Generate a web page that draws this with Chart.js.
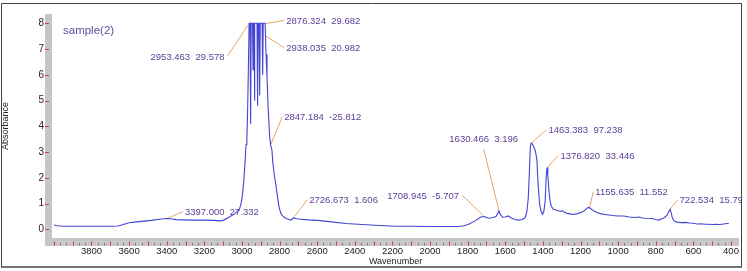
<!DOCTYPE html>
<html><head><meta charset="utf-8">
<script src="https://cdn.jsdelivr.net/npm/chart.js@4"></script>
<style>html,body{margin:0;padding:0;background:#fff;}canvas{display:block;}</style>
</head><body>
<canvas id="c" width="747" height="271"></canvas>
<script>
// ---- data ----
const wavenumbers = [4000,3980,3950,3900,3850,3800,3750,3700,3660,3640,3600,3560,3520,3480,3440,3400,3380,3350,3316,3250,3200,3150,3120,3100,3067,3040,3014,3005,2998,2990,2984,2978,2974,2970,2966,2962,2957,2954,2951,2944,2941,2938,2936,2934,2931,2920,2917,2914,2909,2906,2903,2893,2890,2887,2877,2872,2867,2860,2853,2847,2841,2836,2828,2819,2810,2802,2793,2784,2770,2758,2740,2730,2724,2716,2700,2650,2600,2536,2448,2360,2271,2183,2100,2000,1950,1850,1820,1795,1760,1730,1712,1700,1688,1670,1650,1640,1634,1628,1615,1600,1585,1570,1550,1530,1510,1495,1485,1478,1472,1467,1462,1455,1448,1440,1432,1426,1418,1410,1402,1395,1388,1383,1378,1374,1368,1362,1355,1345,1335,1320,1305,1295,1285,1270,1255,1240,1220,1200,1180,1165,1155,1145,1130,1110,1090,1070,1050,1030,1000,970,940,910,890,870,850,820,800,785,770,755,740,730,724,718,712,705,695,680,660,640,620,600,580,560,540,520,500,480,460,440,420,412];
const absorbance = [0.17,0.14,0.12,0.12,0.12,0.12,0.12,0.12,0.13,0.17,0.26,0.29,0.32,0.35,0.39,0.42,0.41,0.38,0.37,0.36,0.36,0.35,0.33,0.35,0.48,0.6,0.77,1.0,1.3,1.9,2.6,3.3,3.5,4.6,6.2,8,8,4.1,8,8,6.2,8,8,5.0,8,8,4.8,8,8,5.2,8,8,6.0,8,8,6.8,5.9,4.6,3.6,3.25,3.1,2.6,2.1,1.7,1.2,0.83,0.62,0.52,0.44,0.4,0.36,0.42,0.46,0.42,0.4,0.37,0.35,0.3,0.23,0.19,0.15,0.12,0.12,0.11,0.11,0.11,0.14,0.2,0.33,0.48,0.5,0.46,0.43,0.45,0.5,0.62,0.72,0.6,0.47,0.48,0.52,0.45,0.38,0.36,0.38,0.45,0.7,1.2,2.2,3.2,3.35,3.3,3.2,3.05,2.7,1.8,1.0,0.7,0.58,0.7,1.1,2.0,2.4,2.1,1.5,1.1,0.9,0.78,0.76,0.72,0.7,0.72,0.66,0.62,0.6,0.58,0.6,0.65,0.72,0.83,0.85,0.8,0.72,0.65,0.6,0.58,0.56,0.54,0.52,0.52,0.48,0.46,0.48,0.44,0.43,0.42,0.38,0.36,0.4,0.45,0.55,0.7,0.78,0.65,0.45,0.35,0.3,0.27,0.26,0.27,0.25,0.24,0.21,0.22,0.2,0.2,0.19,0.2,0.19,0.21,0.23,0.23];
const xTickLabels = [3800,3600,3400,3200,3000,2800,2600,2400,2200,2000,1800,1600,1400,1200,1000,800,600,400];
const yTickLabels = [0,1,2,3,4,5,6,7,8];
const sampleName = 'sample(2)';
const xTitle = 'Wavenumber';
const yTitle = 'Absorbance';
// peak annotations: text, leader start (on the curve), leader end, text side
const peakLabels = ['2953.463  29.578','2876.324  29.682','2938.035  20.982','2847.184  -25.812','3397.000  27.332','2726.673  1.606','1708.945  -5.707','1630.466  3.196','1463.383  97.238','1376.820  33.446','1155.635  11.552','722.534  15.790'];
const peakAt =  [[2966,7.95],[2876,7.99],[2876,7.52],[2846,3.31],[3394,0.435],[2718,0.52],[1715,0.52],[1635,0.77],[1459,3.37],[1379,2.38],[1153,0.83],[725,0.77]];
const labelAt = [[3077,6.73],[2775,8.11],[2775,7.05],[2786,4.37],[3314,0.69],[2653,1.15],[1830,1.33],[1715,3.12],[1381,3.87],[1317,2.87],[1132,1.45],[684,1.14]];
const labelSide = ['left','right','right','right','right','right','left','top','right','right','right','right'];

const FONT = '"Liberation Sans", Arial, sans-serif';

const deco = {
  id: 'deco',
  beforeDatasetsDraw(chart) {
    const {ctx, chartArea: ca, scales: {x, y}} = chart;
    ctx.save();
    // gray axis bands
    ctx.fillStyle = '#c6c6c6';
    ctx.fillRect(ca.left - 7, ca.top, 7, ca.bottom - ca.top + 8);
    ctx.fillRect(ca.left - 7, ca.bottom, ca.right - ca.left + 7, 8);
    // y tick dashes
    ctx.strokeStyle = '#d04040'; ctx.lineWidth = 1;
    yTickLabels.forEach(v => {
      const py = Math.round(y.getPixelForValue(v)) + 0.5;
      ctx.beginPath(); ctx.moveTo(ca.left - 7, py); ctx.lineTo(ca.left - 3, py); ctx.stroke();
    });
    // x ticks: red every 100, gray minor at thirds
    for (let k = 0; k <= 108; k++) {
      const v = 4000 - k * 100 / 3;
      const px = Math.round(x.getPixelForValue(v)) + 0.5;
      ctx.beginPath();
      if (k % 3 === 0) { ctx.strokeStyle = '#d04040'; ctx.moveTo(px, ca.bottom + 3.5); }
      else { ctx.strokeStyle = '#8a7070'; ctx.moveTo(px, ca.bottom + 5); }
      ctx.lineTo(px, ca.bottom + 7.5); ctx.stroke();
    }
    // annotations
    ctx.font = '9.5px ' + FONT;
    ctx.textBaseline = 'middle';
    peakLabels.forEach((t, i) => {
      const x1 = x.getPixelForValue(peakAt[i][0]), y1 = y.getPixelForValue(peakAt[i][1]);
      const x2 = x.getPixelForValue(labelAt[i][0]), y2 = y.getPixelForValue(labelAt[i][1]);
      ctx.strokeStyle = '#e9a468'; ctx.lineWidth = 1;
      ctx.beginPath(); ctx.moveTo(x1, y1); ctx.lineTo(x2, y2); ctx.stroke();
      ctx.fillStyle = '#5a3f98';
      const s = labelSide[i];
      if (s === 'left') { ctx.textAlign = 'right'; ctx.fillText(t, x2 - 3, y2 + 1); }
      else if (s === 'top') { ctx.textAlign = 'center'; ctx.fillText(t, x2, y2 - 10); }
      else { ctx.textAlign = 'left'; ctx.fillText(t, x2 + 2, y2 + 0.5); }
    });
    // sample name
    ctx.font = '11.5px ' + FONT;
    ctx.textAlign = 'left';
    ctx.fillStyle = '#5a4fa2';
    ctx.fillText(sampleName, ca.left + 11, ca.top + 17);
    ctx.restore();
  },
  afterDraw(chart) {
    const {ctx} = chart;
    ctx.save();
    ctx.fillStyle = '#fff';
    ctx.fillRect(742, 0, 5, 271);
    ctx.strokeStyle = '#444'; ctx.lineWidth = 1;
    ctx.beginPath();
    ctx.moveTo(1.5, 3.5); ctx.lineTo(741.5, 3.5); ctx.lineTo(741.5, 267);
    ctx.moveTo(1.5, 3.5); ctx.lineTo(1.5, 267);
    ctx.stroke();
    ctx.lineWidth = 1.5;
    ctx.beginPath(); ctx.moveTo(1, 267); ctx.lineTo(742, 267); ctx.stroke();
    ctx.restore();
  }
};

new Chart(document.getElementById('c'), {
  type: 'line',
  data: {
    datasets: [{
      data: wavenumbers.map((w, i) => ({x: w, y: absorbance[i]})),
      borderColor: '#4444d4',
      borderWidth: 1.1,
      pointRadius: 0,
      tension: 0,
      fill: false
    }]
  },
  options: {
    responsive: false,
    animation: false,
    devicePixelRatio: 1,
    layout: {padding: {left: 0, right: 6, top: 4, bottom: 0}},
    plugins: {legend: {display: false}, tooltip: {enabled: false}},
    scales: {
      x: {
        type: 'linear', reverse: true, min: 357, max: 4010,
        afterBuildTicks: s => { s.ticks = xTickLabels.map(v => ({value: v})); },
        afterFit: s => { s.height = 33; },
        grid: {display: false, drawTicks: false, drawOnChartArea: false},
        border: {display: false},
        ticks: {autoSkip: false, maxRotation: 0, padding: 8, color: '#222', font: {family: FONT, size: 9.5}, callback: v => String(v)},
        title: {display: true, text: xTitle, color: '#222', font: {family: FONT, size: 9}, padding: {top: 0, bottom: 3.6}}
      },
      y: {
        type: 'linear', min: -0.335, max: 8.36,
        afterBuildTicks: s => { s.ticks = yTickLabels.map(v => ({value: v})); },
        afterFit: s => { s.width = 52; },
        grid: {display: false, drawTicks: false, drawOnChartArea: false},
        border: {display: false},
        ticks: {padding: 8, color: '#222', font: {family: FONT, size: 10}, callback: v => String(v)},
        title: {display: true, text: yTitle, color: '#222', font: {family: FONT, size: 9}, padding: {top: 0.5, bottom: 0}}
      }
    }
  },
  plugins: [deco]
});
</script>
</body></html>
